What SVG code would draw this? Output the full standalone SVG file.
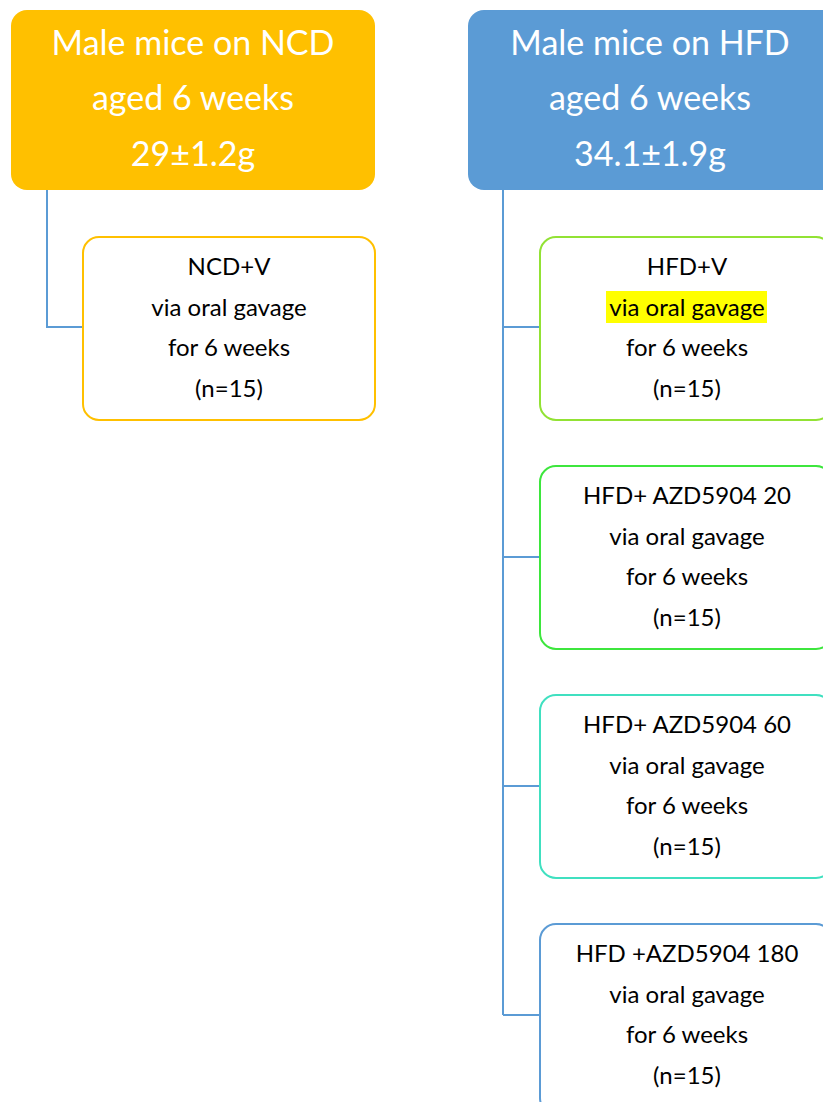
<svg xmlns="http://www.w3.org/2000/svg" width="823" height="1102" viewBox="0 0 823 1102">
<style>
.head{font-family:Lato,"Liberation Sans",sans-serif;font-size:34px;fill:#fff;text-anchor:middle}
.sub{font-family:Lato,"Liberation Sans",sans-serif;font-size:24px;fill:#000;text-anchor:middle}
.box{fill:#fff;stroke-width:2}
.conn{fill:none;stroke:#5B9BD5;stroke-width:2}
</style>
<rect width="823" height="1102" fill="#fff"/>
<g id="connectors">
<path class="conn" d="M47 190 V327 H83"/>
<path class="conn" d="M503 190 V1015 M503 327 H540 M503 557 H540 M503 786 H540 M503 1015 H540"/>
</g>
<g id="ncd-top">
<rect x="11" y="10" width="364" height="180" rx="16" fill="#FFC000"/>
<text class="head" x="193" y="55">Male mice on NCD</text>
<text class="head" x="193" y="110">aged 6 weeks</text>
<text class="head" x="193" y="166">29±1.2g</text>
</g>
<g id="hfd-top">
<rect x="468" y="10" width="370" height="180" rx="16" fill="#5B9BD5"/>
<text class="head" x="650" y="55">Male mice on HFD</text>
<text class="head" x="650" y="110">aged 6 weeks</text>
<text class="head" x="650" y="166">34.1±1.9g</text>
</g>
<g id="ncd-v">
<rect class="box" x="83" y="237" width="292" height="183" rx="16" stroke="#FFC000"/>
<text class="sub" x="229" y="275">NCD+V</text>
<text class="sub" x="229" y="316">via oral gavage</text>
<text class="sub" x="229" y="356">for 6 weeks</text>
<text class="sub" x="229" y="397">(n=15)</text>
</g>
<g id="hfd-v">
<rect class="box" x="540" y="237" width="292" height="183" rx="16" stroke="#92E234"/>
<rect x="606" y="291" width="161" height="32" fill="#FFFF00"/>
<text class="sub" x="687" y="275">HFD+V</text>
<text class="sub" x="687" y="316">via oral gavage</text>
<text class="sub" x="687" y="356">for 6 weeks</text>
<text class="sub" x="687" y="397">(n=15)</text>
</g>
<g id="hfd-20">
<rect class="box" x="540" y="466" width="292" height="183" rx="16" stroke="#3DE63D"/>
<text class="sub" x="687" y="504">HFD+ AZD5904 20</text>
<text class="sub" x="687" y="545">via oral gavage</text>
<text class="sub" x="687" y="585">for 6 weeks</text>
<text class="sub" x="687" y="626">(n=15)</text>
</g>
<g id="hfd-60">
<rect class="box" x="540" y="695" width="292" height="183" rx="16" stroke="#40E0C0"/>
<text class="sub" x="687" y="733">HFD+ AZD5904 60</text>
<text class="sub" x="687" y="774">via oral gavage</text>
<text class="sub" x="687" y="814">for 6 weeks</text>
<text class="sub" x="687" y="855">(n=15)</text>
</g>
<g id="hfd-180">
<rect class="box" x="540" y="924" width="292" height="190" rx="16" stroke="#5B9BD5"/>
<text class="sub" x="687" y="962">HFD +AZD5904 180</text>
<text class="sub" x="687" y="1003">via oral gavage</text>
<text class="sub" x="687" y="1043">for 6 weeks</text>
<text class="sub" x="687" y="1084">(n=15)</text>
</g>
</svg>
